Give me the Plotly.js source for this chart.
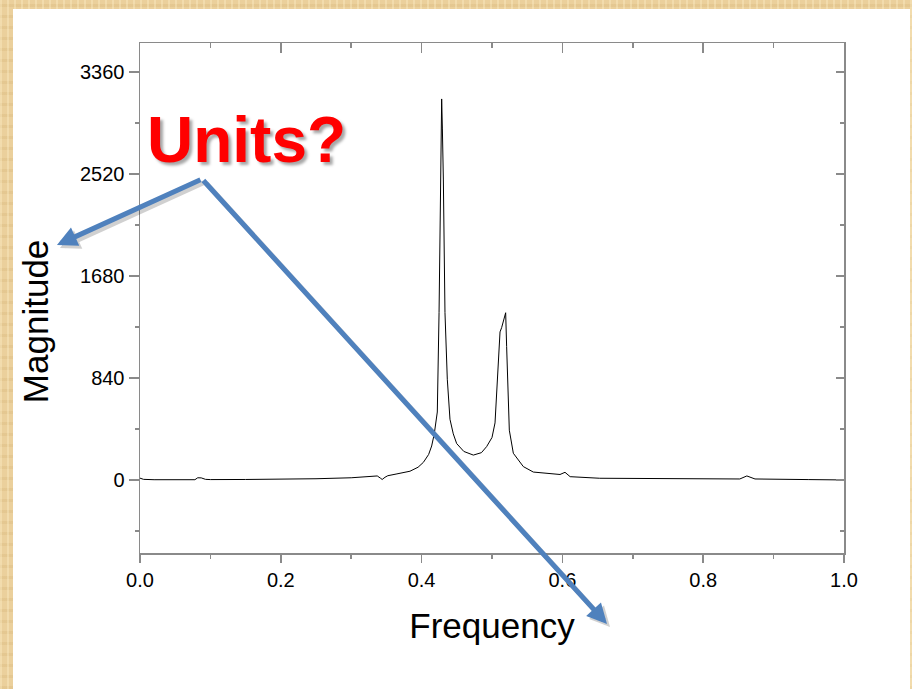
<!DOCTYPE html>
<html>
<head>
<meta charset="utf-8">
<script src="https://cdn.plot.ly/plotly-3.0.1.min.js"></script>
<style>
  html, body { margin:0; padding:0; }
  body {
    width:912px; height:689px; overflow:hidden; position:relative;
    background-color:#ebd09c;
    background-image:
      repeating-linear-gradient(90deg, rgba(255,242,205,0.35) 0 2px, rgba(0,0,0,0) 2px 7px),
      repeating-linear-gradient(0deg, rgba(190,150,80,0.15) 0 3px, rgba(0,0,0,0) 3px 11px);
  }
  #chart { position:absolute; left:13px; top:9px; width:897px; height:680px; background:#ffffff; }
</style>
</head>
<body>
<div id="chart"></div>
<script>
// ---- data ----
const frequency = [0, 0.005, 0.02, 0.05, 0.078, 0.082, 0.087, 0.093, 0.1, 0.15, 0.2, 0.25, 0.3, 0.33, 0.337,
  0.3415, 0.344, 0.348, 0.352, 0.365, 0.3835, 0.395, 0.4025, 0.41, 0.4143, 0.418, 0.4223, 0.4248, 0.427,
  0.4285, 0.4295, 0.4309, 0.4332, 0.4365, 0.4403, 0.445, 0.4498, 0.46, 0.4735, 0.485, 0.4924, 0.5, 0.5043,
  0.5076, 0.5114, 0.5137, 0.5194, 0.5208, 0.5225, 0.5246, 0.5303, 0.5445, 0.5587, 0.5966, 0.6037, 0.611,
  0.653, 0.75, 0.852, 0.862, 0.8736, 0.95, 1.0];
const magnitude = [15, 5, 2, 1, 2, 18, 17, 5, 3, 4, 6, 10, 18, 30, 33,
  15, 4, 22, 35, 50, 72, 105, 145, 210, 280, 380, 560, 1380, 2400,
  3140, 2900, 2480, 1380, 830, 500, 380, 300, 235, 205, 225, 275, 350, 470,
  830, 1220, 1255, 1378, 1100, 700, 410, 220, 110, 65, 45, 63, 27,
  14, 10, 8, 33, 8, 3, 0];
const xTickVals = [0, 0.2, 0.4, 0.6, 0.8, 1.0];
const xTickText = ["0.0", "0.2", "0.4", "0.6", "0.8", "1.0"];
const yTickVals = [0, 840, 1680, 2520, 3360];
const yTickText = ["0", "840", "1680", "2520", "3360"];
const xTitle = "Frequency";
const yTitle = "Magnitude";
const noteText = "Units?";

const axisGray = "#8a8a8a";
const FONT = "Liberation Sans, Arial, sans-serif";
const xRange = [0, 1];
const yRange = [-602, 3601];

const trace = {
  x: frequency, y: magnitude, type: "scatter", mode: "lines",
  line: { color: "#000000", width: 1 }, hoverinfo: "skip", showlegend: false
};
// empty trace so that the mirrored (top / right) frame axes get drawn
const frameTrace = { x: [], y: [], type: "scatter", mode: "lines", xaxis: "x2", yaxis: "y2",
  hoverinfo: "skip", showlegend: false };

const arrowColor = "#4f81bd";
const layout = {
  width: 897, height: 680,
  margin: { l: 127, r: 66, t: 34, b: 136, pad: 0 },
  paper_bgcolor: "#ffffff", plot_bgcolor: "#ffffff",
  showlegend: false,
  font: { family: FONT, color: "#000000", size: 20 },
  xaxis: {
    range: xRange, tickvals: xTickVals, ticktext: xTickText,
    showgrid: false, zeroline: false, showline: true, linecolor: axisGray, linewidth: 1.5,
    ticks: "outside", ticklen: 8, tickwidth: 1.5, tickcolor: axisGray,
    minor: { dtick: 0.1, tick0: 0, ticks: "outside", ticklen: 4, tickwidth: 1.5, tickcolor: axisGray },
    tickfont: { family: FONT, size: 20, color: "#000" },
    title: { text: xTitle, font: { family: FONT, size: 35, color: "#000" }, standoff: 24 },
    automargin: false, fixedrange: true
  },
  xaxis2: {
    range: xRange, overlaying: "x", side: "top", anchor: "y2",
    tickvals: xTickVals, showticklabels: false,
    showgrid: false, zeroline: false, showline: true, linecolor: axisGray, linewidth: 1.5,
    ticks: "inside", ticklen: 10, tickwidth: 1.5, tickcolor: axisGray,
    minor: { dtick: 0.1, tick0: 0, ticks: "inside", ticklen: 5, tickwidth: 1.5, tickcolor: axisGray },
    automargin: false, fixedrange: true
  },
  yaxis: {
    range: yRange, tickvals: yTickVals, ticktext: yTickText,
    showgrid: false, zeroline: false, showline: true, linecolor: axisGray, linewidth: 1.5,
    ticks: "outside", ticklen: 10, tickwidth: 1.5, tickcolor: axisGray,
    minor: { dtick: 420, tick0: 0, ticks: "outside", ticklen: 4, tickwidth: 1.5, tickcolor: axisGray },
    tickfont: { family: FONT, size: 20, color: "#000" },
    automargin: false, fixedrange: true
  },
  yaxis2: {
    range: yRange, overlaying: "y", side: "right", anchor: "x2",
    tickvals: yTickVals, showticklabels: false,
    showgrid: false, zeroline: false, showline: true, linecolor: axisGray, linewidth: 1.5,
    ticks: "inside", ticklen: 8, tickwidth: 1.5, tickcolor: axisGray,
    minor: { dtick: 420, tick0: 0, ticks: "inside", ticklen: 4, tickwidth: 1.5, tickcolor: axisGray },
    automargin: false, fixedrange: true
  },
  annotations: [
    // y axis title (placed slightly below the axis centre, as in the reference)
    { xref: "paper", yref: "paper", x: -0.149, y: 0.4529, text: yTitle, textangle: -90,
      showarrow: false, xanchor: "center", yanchor: "middle",
      font: { family: FONT, size: 35, color: "#000" } },
    // arrow shadows
    { xref: "paper", yref: "paper", x: -0.118 + 3/704, y: 0.6039 - 3/510, ax: 145, ay: -66, text: "",
      showarrow: true, arrowhead: 2, arrowsize: 0.8, arrowwidth: 5, arrowcolor: "rgba(0,0,0,0.18)", standoff: 0 },
    { xref: "paper", yref: "paper", x: 0.6634 + 3/704, y: -0.1392 - 3/510, ax: -405, ay: -445, text: "",
      showarrow: true, arrowhead: 2, arrowsize: 0.8, arrowwidth: 5, arrowcolor: "rgba(0,0,0,0.18)", standoff: 0 },
    // arrows
    { xref: "paper", yref: "paper", x: -0.118, y: 0.6039, ax: 145, ay: -66, text: "",
      showarrow: true, arrowhead: 2, arrowsize: 0.8, arrowwidth: 5, arrowcolor: arrowColor, standoff: 0 },
    { xref: "paper", yref: "paper", x: 0.6634, y: -0.1392, ax: -405, ay: -445, text: "",
      showarrow: true, arrowhead: 2, arrowsize: 0.8, arrowwidth: 5, arrowcolor: arrowColor, standoff: 0 },
    // Units? note
    { xref: "paper", yref: "paper", x: 0.1506, y: 0.809, text: "<b>" + noteText + "</b>",
      showarrow: false, xanchor: "center", yanchor: "middle",
      font: { family: FONT, size: 64, color: "#ff0000", shadow: "3px 3px 3px rgba(0,0,0,0.35)" } }
  ]
};

Plotly.newPlot("chart", [trace, frameTrace], layout, { staticPlot: true, displayModeBar: false });
</script>
</body>
</html>
